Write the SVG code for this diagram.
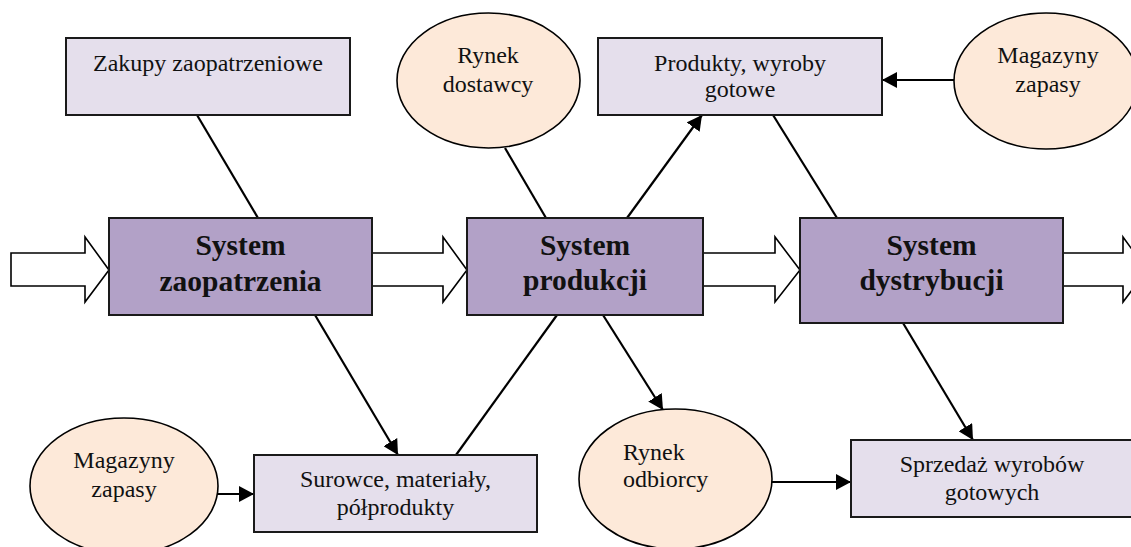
<svg xmlns="http://www.w3.org/2000/svg" width="1131" height="547" viewBox="0 0 1131 547">
<style>
.box{fill:#E5DFEC;stroke:#1a1a1a;stroke-width:2}
.sys{fill:#B2A1C7;stroke:#1a1a1a;stroke-width:2}
.ell{fill:#FDE9D9;stroke:#000;stroke-width:1.6}
.big{fill:#fff;stroke:#000;stroke-width:1.6}
.t{font-family:"Liberation Serif","Times New Roman",serif;font-size:24px;fill:#111}
.b{font-family:"Liberation Serif","Times New Roman",serif;font-size:29.5px;font-weight:bold;fill:#111}
.ln{stroke:#000;stroke-width:2.2;fill:none}
.ar{stroke:#000;stroke-width:2.2;fill:none;marker-end:url(#ah)}
</style>
<defs>
<marker id="ah" markerUnits="userSpaceOnUse" markerWidth="16" markerHeight="16" refX="15" refY="8" orient="auto">
<path d="M0,0 L15,8 L0,16 z" fill="#000"/>
</marker>
</defs>
<rect width="1131" height="547" fill="#fff"/>
<g id="flow-arrows">
<polygon class="big" points="11,253 85,253 85,237 109,270 85,302 85,286 11,286"/>
<polygon class="big" points="372,253 443,253 443,237 467,270 443,302 443,286 372,286"/>
<polygon class="big" points="703,253 775,253 775,237 800,270 775,302 775,286 703,286"/>
<polygon class="big" points="1063,253 1123,253 1123,237 1147,270 1123,302 1123,286 1063,286"/>
</g>
<g id="connectors">
<line class="ln" x1="197" y1="115" x2="258" y2="218"/>
<line class="ln" x1="505" y1="148" x2="546" y2="218"/>
<line class="ar" x1="627" y1="218" x2="702" y2="115"/>
<line class="ar" x1="954" y1="80" x2="882" y2="80"/>
<line class="ln" x1="773" y1="115" x2="837" y2="218"/>
<line class="ar" x1="315" y1="315" x2="398" y2="455"/>
<line class="ar" x1="207" y1="494" x2="254" y2="494"/>
<line class="ln" x1="456" y1="455" x2="557" y2="315"/>
<line class="ar" x1="603" y1="315" x2="663" y2="410"/>
<line class="ar" x1="772" y1="482" x2="851" y2="482"/>
<line class="ar" x1="903" y1="323" x2="973" y2="440"/>
</g>
<g id="zakupy">
<rect class="box" x="66" y="38" width="284" height="77"/>
<text class="t" x="208" y="71" text-anchor="middle">Zakupy zaopatrzeniowe</text>
</g>
<g id="rynek-dostawcy">
<ellipse class="ell" cx="488.5" cy="80.5" rx="91.5" ry="67.5"/>
<text class="t" x="488" y="63" text-anchor="middle">Rynek</text>
<text class="t" x="488" y="92" text-anchor="middle">dostawcy</text>
</g>
<g id="produkty">
<rect class="box" x="598" y="38" width="284" height="77"/>
<text class="t" x="740" y="71" text-anchor="middle">Produkty, wyroby</text>
<text class="t" x="740" y="97" text-anchor="middle">gotowe</text>
</g>
<g id="magazyny-top">
<ellipse class="ell" cx="1046" cy="81" rx="92" ry="68"/>
<text class="t" x="1048" y="63" text-anchor="middle">Magazyny</text>
<text class="t" x="1048" y="92" text-anchor="middle">zapasy</text>
</g>
<g id="system-zaopatrzenia">
<rect class="sys" x="109" y="218" width="263" height="97"/>
<text class="b" x="240.5" y="255" text-anchor="middle">System</text>
<text class="b" x="240.5" y="291" text-anchor="middle">zaopatrzenia</text>
</g>
<g id="system-produkcji">
<rect class="sys" x="467" y="218" width="236" height="97"/>
<text class="b" x="585" y="255" text-anchor="middle">System</text>
<text class="b" x="585" y="290" text-anchor="middle">produkcji</text>
</g>
<g id="system-dystrybucji">
<rect class="sys" x="800" y="218" width="263" height="105"/>
<text class="b" x="931.5" y="255" text-anchor="middle">System</text>
<text class="b" x="931.5" y="290" text-anchor="middle">dystrybucji</text>
</g>
<g id="magazyny-bottom">
<ellipse class="ell" cx="124" cy="486" rx="94" ry="68"/>
<text class="t" x="124" y="468" text-anchor="middle">Magazyny</text>
<text class="t" x="124" y="497" text-anchor="middle">zapasy</text>
</g>
<g id="surowce">
<rect class="box" x="254" y="455" width="283" height="77"/>
<text class="t" x="395.5" y="487" text-anchor="middle">Surowce, materiały,</text>
<text class="t" x="395.5" y="515" text-anchor="middle">półprodukty</text>
</g>
<g id="rynek-odbiorcy">
<ellipse class="ell" cx="675.5" cy="479" rx="96.5" ry="70"/>
<text class="t" x="623" y="460">Rynek</text>
<text class="t" x="623" y="487">odbiorcy</text>
</g>
<g id="sprzedaz">
<rect class="box" x="851" y="440" width="282" height="77"/>
<text class="t" x="992" y="472" text-anchor="middle">Sprzedaż wyrobów</text>
<text class="t" x="992" y="500" text-anchor="middle">gotowych</text>
</g>
</svg>
